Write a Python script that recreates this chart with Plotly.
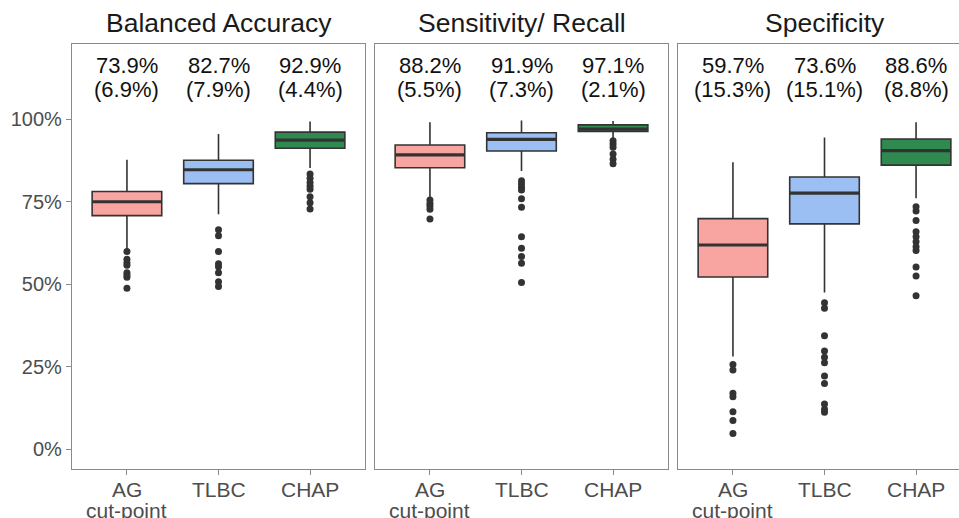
import plotly.graph_objects as go
from plotly.subplots import make_subplots

categories = ["AG", "TLBC", "CHAP"]
category_sub = ["cut-point", "", ""]
panel_titles = ["Balanced Accuracy", "Sensitivity/ Recall", "Specificity"]
fills = ["#F8A5A1", "#9BBFF3", "#2E8A4E"]

# box statistics per panel (percent), order AG, TLBC, CHAP
ba_q1 = [70.8, 80.5, 91.2]; ba_med = [75.0, 84.7, 93.7]; ba_q3 = [78.1, 87.6, 96.1]
ba_lo = [60.4, 71.2, 85.2]; ba_hi = [87.7, 95.5, 99.3]
ba_out = [[59.9, 57.6, 56.5, 55.8, 53.5, 52.8, 52.1, 48.8],
          [66.5, 64.7, 59.9, 56.2, 55.3, 53.5, 50.8, 49.3],
          [83.4, 82.1, 80.8, 79.8, 78.8, 76.5, 74.7, 72.8]]
ba_mean = ["73.9%", "82.7%", "92.9%"]; ba_sd = ["(6.9%)", "(7.9%)", "(4.4%)"]

se_q1 = [85.3, 90.4, 96.3]; se_med = [89.2, 93.9, 97.0]; se_q3 = [92.2, 95.9, 98.3]
se_lo = [75.8, 84.3, 93.7]; se_hi = [99.1, 99.6, 99.5]
se_out = [[75.5, 74.5, 73.7, 72.7, 69.8],
          [81.4, 80.4, 79.4, 78.6, 75.9, 73.3, 64.4, 60.9, 58.4, 56.4, 50.5],
          [93.5, 92.5, 91.5, 89.5, 87.9, 86.5]]
se_mean = ["88.2%", "91.9%", "97.1%"]; se_sd = ["(5.5%)", "(7.3%)", "(2.1%)"]

sp_q1 = [52.2, 68.3, 86.1]; sp_med = [61.9, 77.6, 90.5]; sp_q3 = [69.9, 82.5, 94.0]
sp_lo = [28.1, 47.5, 76.1]; sp_hi = [87.0, 94.5, 99.1]
sp_out = [[25.7, 24.0, 17.0, 15.9, 11.4, 8.7, 4.8],
          [44.4, 42.7, 34.4, 29.8, 27.9, 26.2, 22.2, 19.9, 13.7, 12.1, 11.2],
          [73.5, 72.2, 69.3, 65.9, 64.4, 62.9, 61.4, 60.2, 55.2, 52.5, 46.5]]
sp_mean = ["59.7%", "73.6%", "88.6%"]; sp_sd = ["(15.3%)", "(15.1%)", "(8.8%)"]

y_ticks = [0, 25, 50, 75, 100]

panels = [
    (ba_q1, ba_med, ba_q3, ba_lo, ba_hi, ba_out, ba_mean, ba_sd),
    (se_q1, se_med, se_q3, se_lo, se_hi, se_out, se_mean, se_sd),
    (sp_q1, sp_med, sp_q3, sp_lo, sp_hi, sp_out, sp_mean, sp_sd),
]

W, H = 959, 518
BOXW = 0.76
DARK = "#333333"
FRAME = "#8A8A8A"
FONT = "Liberation Sans, Arial, sans-serif"
AXTXT = "#4D4D4D"

fig = make_subplots(rows=1, cols=3)
xpos = [1, 2, 3]

for p, (q1, med, q3, lo, hi, outs, means, sds) in enumerate(panels):
    col = p + 1
    xr = "x" if col == 1 else f"x{col}"
    yr = "y" if col == 1 else f"y{col}"
    for i in range(3):
        fig.add_trace(go.Box(
            x=[xpos[i]], q1=[q1[i]], median=[med[i]], q3=[q3[i]],
            lowerfence=[lo[i]], upperfence=[hi[i]],
            width=BOXW, whiskerwidth=0, fillcolor=fills[i],
            line=dict(color=DARK, width=1.6), boxpoints=False,
            showlegend=False, hoverinfo="skip"), row=1, col=col)
        # thicker median bar
        fig.add_trace(go.Scatter(
            x=[xpos[i] - BOXW / 2, xpos[i] + BOXW / 2], y=[med[i], med[i]],
            mode="lines", line=dict(color=DARK, width=3.2),
            showlegend=False, hoverinfo="skip"), row=1, col=col)
        fig.add_trace(go.Scatter(
            x=[xpos[i]] * len(outs[i]), y=outs[i], mode="markers",
            marker=dict(color=DARK, size=7), showlegend=False,
            hoverinfo="skip"), row=1, col=col)
        fig.add_annotation(x=xpos[i], y=116.3, xref=xr, yref=yr, text=means[i],
                           showarrow=False, yanchor="middle", xanchor="center",
                           font=dict(family=FONT, size=22, color="#111111"))
        fig.add_annotation(x=xpos[i], y=109.0, xref=xr, yref=yr, text=sds[i],
                           showarrow=False, yanchor="middle", xanchor="center",
                           font=dict(family=FONT, size=22, color="#111111"))
        # category labels under the axis
        fig.add_annotation(x=xpos[i], y=0, xref=xr, yref="paper", yshift=-20,
                           text=categories[i], showarrow=False,
                           yanchor="middle", xanchor="center",
                           font=dict(family=FONT, size=21, color=AXTXT))
        if category_sub[i]:
            fig.add_annotation(x=xpos[i], y=0, xref=xr, yref="paper", yshift=-41,
                               text=category_sub[i], showarrow=False,
                               yanchor="middle", xanchor="center",
                               font=dict(family=FONT, size=21, color=AXTXT))

domains = [[72 / W, 365 / W], [375 / W, 668 / W], [678 / W, 1.0]]
unit = 293 / 3.2
xranges = [[0.4, 3.6], [0.4, 3.6], [0.4, 0.4 + (W - 678) / unit]]
yrange = [-5.97, 122.8]

for p in range(3):
    col = p + 1
    fig.update_xaxes(domain=domains[p], range=xranges[p], tickvals=xpos,
                     showticklabels=False, ticks="outside", ticklen=5,
                     tickcolor=FRAME, tickwidth=1.3, showline=True, mirror=True,
                     linecolor=FRAME, linewidth=1.3, showgrid=False, zeroline=False,
                     automargin=False, row=1, col=col)
    fig.update_yaxes(range=yrange, tickvals=y_ticks,
                     ticktext=[f"{v}%" for v in y_ticks],
                     showticklabels=(p == 0), ticks="outside" if p == 0 else "",
                     ticklen=5, tickcolor=FRAME, tickwidth=1.3,
                     showline=True, mirror=(p < 2), linecolor=FRAME, linewidth=1.3,
                     showgrid=False, zeroline=False, automargin=False,
                     tickfont=dict(family=FONT, size=20, color=AXTXT),
                     row=1, col=col)
    cx = (72 + 303 * p + 146.5) / W
    fig.add_annotation(x=cx, y=1.0, xref="paper", yref="paper", yshift=21,
                       text=panel_titles[p], showarrow=False, yanchor="middle",
                       xanchor="center",
                       font=dict(family=FONT, size=26.5, color="#1A1A1A"))

fig.update_layout(width=W, height=H, margin=dict(l=0, r=0, t=44, b=49),
                  paper_bgcolor="white", plot_bgcolor="white")

fig.write_html("out.html")
